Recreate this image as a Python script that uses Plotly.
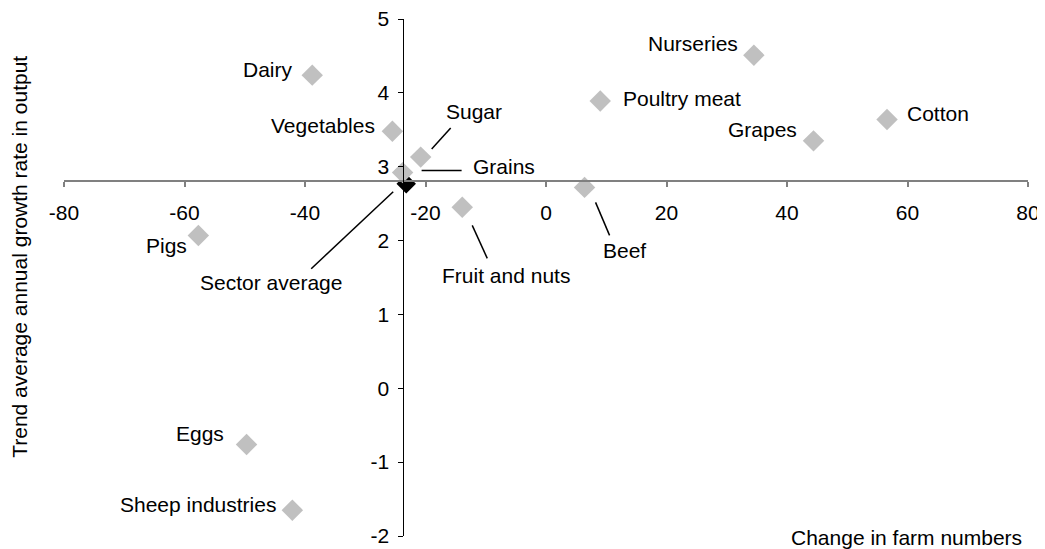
import plotly.graph_objects as go

# ---- data ----
names = ["Dairy", "Vegetables", "Sugar", "Grains", "Fruit and nuts", "Pigs", "Eggs",
         "Sheep industries", "Nurseries", "Poultry meat", "Cotton", "Grapes", "Beef"]
farm_change = [-38.8, -25.5, -20.8, -23.8, -13.9, -57.7, -49.7, -42.1, 34.5, 9.0, 56.6, 44.4, 6.4]
output_growth = [4.24, 3.48, 3.13, 2.92, 2.45, 2.07, -0.76, -1.65, 4.51, 3.89, 3.64, 3.35, 2.72]

avg_name = "Sector average"
avg_change = [-23.2]
avg_growth = [2.77]

x_ticks = [-80, -60, -40, -20, 0, 20, 40, 60, 80]
y_ticks = [-2, -1, 0, 1, 2, 3, 4, 5]
x_ticktext = [str(v) for v in x_ticks]
y_ticktext = [str(v) for v in y_ticks]

x_title = "Change in farm numbers"
y_title = "Trend average annual growth rate in output"

# axes cross at (approximately) the sector average
x_cross = -23.8
y_cross = 2.80

# ---- layout geometry (page body has an 8px margin) ----
OFF = 8
W, H = 1045 - OFF, 549 - OFF
ML, MT = 64 - OFF, 19 - OFF
MR = W - (1028 - OFF)
MB = H - (536 - OFF)
PW, PH = W - ML - MR, H - MT - MB
XR = (x_ticks[0], x_ticks[-1])
YR = (y_ticks[0], y_ticks[-1])
ux = (XR[1] - XR[0]) / PW   # data units per pixel
uy = (YR[1] - YR[0]) / PH

FONT = "Liberation Sans, Arial, sans-serif"
FS = 21

# label centre offsets in pixels (dx right, dy down) from the marker
label_off = {
    "Dairy": (-44, -6), "Vegetables": (-69, -6), "Sugar": (53, -46), "Grains": (101, -6),
    "Fruit and nuts": (44, 68), "Pigs": (-32, 10), "Eggs": (-47, -11),
    "Sheep industries": (-94, -6), "Nurseries": (-61, -12), "Poultry meat": (82, -2),
    "Cotton": (51, -6), "Grapes": (-51, -11), "Beef": (40, 63),
    "Sector average": (-135, 99),
}
# leader lines, pixel offsets from the marker: (x0, y0, x1, y1)
leaders = {
    "Sugar": (11, -8, 30, -29),
    "Grains": (19, -2, 59, -2),
    "Fruit and nuts": (10, 18, 25, 51),
    "Beef": (11, 15, 25, 48),
    "Sector average": (-13, 8, -95, 85),
}

fig = go.Figure()
fig.add_trace(go.Scatter(
    x=avg_change, y=avg_growth, mode="markers", name=avg_name,
    marker=dict(symbol="diamond", size=15, color="#000000", line=dict(width=0)),
    hoverinfo="text", text=[avg_name]))
fig.add_trace(go.Scatter(
    x=farm_change, y=output_growth, mode="markers", name="Industries",
    marker=dict(symbol="diamond", size=16.5, color="#C0C0C0", line=dict(width=0)),
    hoverinfo="text", text=names))

all_pts = list(zip(names, farm_change, output_growth)) + [(avg_name, avg_change[0], avg_growth[0])]
annotations = []
shapes = []
for n, xv, yv in all_pts:
    dx, dy = label_off[n]
    annotations.append(dict(
        x=xv + dx * ux, y=yv - dy * uy, xref="x", yref="y", text=n, showarrow=False,
        xanchor="center", yanchor="middle", font=dict(family=FONT, size=FS, color="#000000")))
    if n in leaders:
        x0, y0, x1, y1 = leaders[n]
        shapes.append(dict(
            type="line", xref="x", yref="y",
            x0=xv + x0 * ux, y0=yv - y0 * uy, x1=xv + x1 * ux, y1=yv - y1 * uy,
            line=dict(color="#000000", width=1.5)))

annotations.append(dict(
    x=1.0 - 4 / PW, y=-1 / PH, xref="paper", yref="paper", text=x_title, showarrow=False,
    xanchor="right", yanchor="middle", font=dict(family=FONT, size=FS, color="#000000")))
annotations.append(dict(
    x=-44 / PW, y=0.54, xref="paper", yref="paper", text=y_title, showarrow=False,
    textangle=-90, xanchor="center", yanchor="middle",
    font=dict(family=FONT, size=FS, color="#000000")))

fig.update_layout(
    width=W, height=H, autosize=False,
    margin=dict(l=ML, r=MR, t=MT, b=MB, pad=0),
    paper_bgcolor="white", plot_bgcolor="white",
    showlegend=False,
    font=dict(family=FONT, size=FS, color="#000000"),
    xaxis=dict(range=list(XR), tickvals=x_ticks, ticktext=x_ticktext,
               showgrid=False, zeroline=False,
               showline=True, linecolor="#808080", linewidth=1.5,
               ticks="outside", ticklen=5, tickcolor="#808080", tickwidth=1.5,
               anchor="free", position=(y_cross - YR[0]) / (YR[1] - YR[0]),
               ticklabelstandoff=8, automargin=False, ticklabeloverflow="allow",
               tickfont=dict(family=FONT, size=FS, color="#000000")),
    yaxis=dict(range=list(YR), tickvals=y_ticks, ticktext=y_ticktext,
               showgrid=False, zeroline=False,
               showline=True, linecolor="#000000", linewidth=1.2,
               ticks="outside", ticklen=5, tickcolor="#000000", tickwidth=1.2,
               anchor="free", position=(x_cross - XR[0]) / (XR[1] - XR[0]),
               ticklabelstandoff=4, automargin=False, ticklabeloverflow="allow",
               tickfont=dict(family=FONT, size=FS, color="#000000")),
    annotations=annotations,
    shapes=shapes,
)

fig.write_html("out.html")
